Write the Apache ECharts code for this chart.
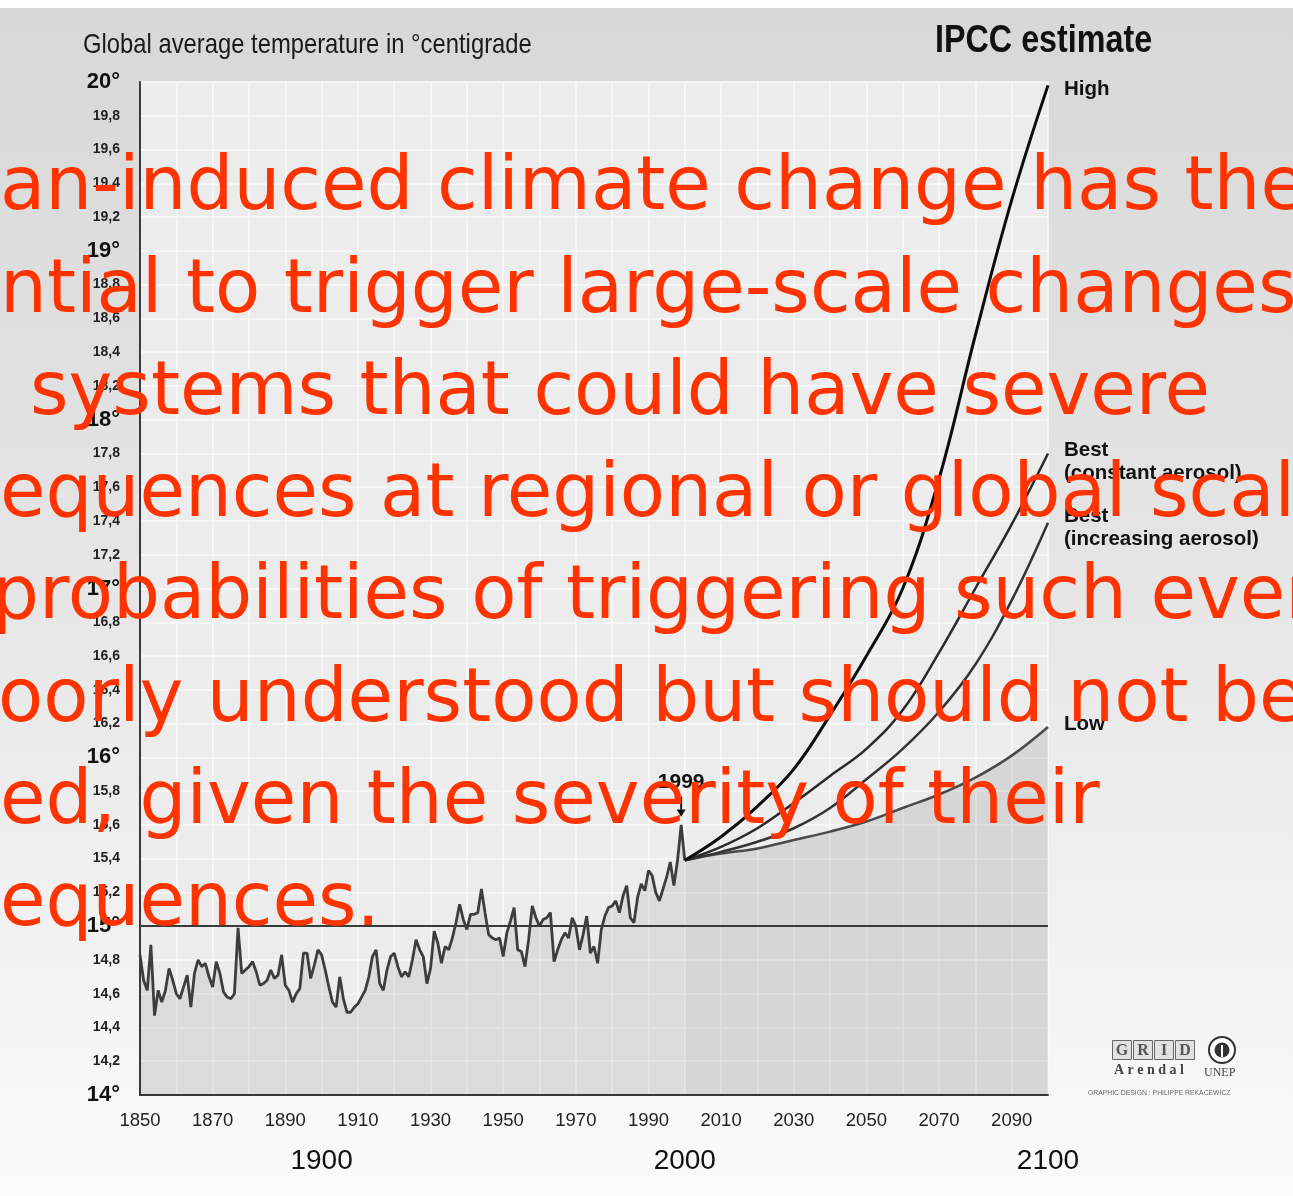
<!DOCTYPE html>
<html>
<head>
<meta charset="utf-8">
<script src="https://cdn.jsdelivr.net/npm/echarts@6/dist/echarts.min.js"></script>
<style>
  html, body { margin: 0; padding: 0; background: #fff; }
  #chart { width: 1293px; height: 1196px; }
</style>
</head>
<body>
<div id="chart"></div>
<script>
// observed global average temperature, one value per year from 1850
const histStart = 1850;
const histTemps = [
    14.83, 14.68, 14.62, 14.89, 14.47, 14.62, 14.55, 14.62, 14.75, 14.68,
    14.60, 14.57, 14.64, 14.71, 14.52, 14.72, 14.80, 14.76, 14.78, 14.70,
    14.64, 14.79, 14.72, 14.61, 14.58, 14.57, 14.60, 14.99, 14.72, 14.74,
    14.76, 14.79, 14.73, 14.65, 14.66, 14.68, 14.74, 14.69, 14.71, 14.83,
    14.65, 14.62, 14.55, 14.60, 14.63, 14.84, 14.84, 14.69, 14.77, 14.86,
    14.83, 14.74, 14.64, 14.55, 14.52, 14.70, 14.57, 14.49, 14.49, 14.52,
    14.54, 14.58, 14.62, 14.70, 14.82, 14.86, 14.66, 14.62, 14.74, 14.82,
    14.84, 14.76, 14.70, 14.73, 14.70, 14.80, 14.92, 14.86, 14.82, 14.66,
    14.75, 14.97, 14.90, 14.78, 14.88, 14.86, 14.93, 15.02, 15.13, 15.04,
    14.98, 15.07, 15.07, 15.08, 15.22, 15.08, 14.95, 14.93, 14.92, 14.93,
    14.82, 14.96, 15.03, 15.11, 14.86, 14.85, 14.76, 14.92, 15.12, 15.05,
    15.00, 15.04, 15.05, 15.08, 14.79, 14.86, 14.92, 14.96, 14.93, 15.05,
    15.00, 14.86, 14.95, 15.06, 14.84, 14.88, 14.78, 14.98, 15.06, 15.11,
    15.12, 15.15, 15.08, 15.18, 15.24, 15.05, 15.02, 15.17, 15.25, 15.21,
    15.33, 15.30, 15.20, 15.15, 15.22, 15.29, 15.38, 15.24, 15.39, 15.60,
    15.39
];

// IPCC projections
const projYears = [2000, 2010, 2020, 2030, 2040, 2050, 2060, 2070, 2080, 2090, 2100];
const high      = [15.39, 15.53, 15.71, 15.93, 16.25, 16.60, 17.00, 17.65, 18.50, 19.30, 19.98];
const bestConst = [15.39, 15.47, 15.58, 15.73, 15.89, 16.05, 16.28, 16.62, 17.00, 17.38, 17.80];
const bestIncr  = [15.39, 15.44, 15.50, 15.58, 15.70, 15.87, 16.05, 16.27, 16.55, 16.93, 17.39];
const low       = [15.39, 15.43, 15.46, 15.51, 15.56, 15.62, 15.70, 15.78, 15.88, 16.01, 16.18];

const yearLabels = [1850, 1870, 1890, 1910, 1930, 1950, 1970, 1990, 2010, 2030, 2050, 2070, 2090];
const centuryLabels = [1900, 2000, 2100];
const refLevel = 15;
const markYear = 1999;

const overlayLines = [
    'an-induced climate change has the',
    'ntial to trigger large-scale changes in',
    'systems that could have severe',
    'equences at regional or global scales.',
    'probabilities of triggering such events are',
    'oorly understood but should not be',
    'ed, given the severity of their',
    'equences.'
];

const SANS = '"Liberation Sans", Arial, sans-serif';

let histData = histTemps.map((t, i) => [histStart + i, t]);
let pair = (arr) => projYears.map((y, i) => [y, arr[i]]);
let bandData = projYears.map((y, i) => [y, +(high[i] - low[i]).toFixed(2)]);
let markTemp = histTemps[markYear - histStart];

function yLabel(v) {
    let r = Math.round(v * 10) / 10;
    if (Math.abs(r - Math.round(r)) < 1e-6) {
        return `{big|${Math.round(r)}°}`;
    }
    return `{small|${r.toFixed(1).replace('.', ',')}}`;
}

function endLabel(text, offsetY) {
    return {
        show: true,
        formatter: text,
        color: '#111',
        fontFamily: SANS,
        fontWeight: 'bold',
        fontSize: 20.5,
        lineHeight: 23,
        distance: 16,
        align: 'left',
        offset: [0, offsetY]
    };
}

// overlay text, one graphic per line
let overlayX = [0, 0, 30, 0, -8, -2, 0, 0];
let overlay = overlayLines.map((s, i) => ({
    type: 'text',
    left: overlayX[i],
    top: 153 + i * 102.3,
    z: 200,
    silent: true,
    style: {
        text: s,
        fill: '#ff3300',
        font: '74px "DejaVu Sans", sans-serif'
    }
}));

let chart = echarts.init(document.getElementById('chart'), null, {renderer: 'canvas'});

let option = {
    animation: false,
    backgroundColor: {
        type: 'linear', x: 0, y: 0, x2: 0, y2: 1,
        colorStops: [
            {offset: 0, color: '#d7d7d7'},
            {offset: 0.5, color: '#e6e6e6'},
            {offset: 1, color: '#fbfbfb'}
        ]
    },
    grid: {
        left: 140, right: 245, top: 82, bottom: 101,
        show: true,
        backgroundColor: '#ececec',
        borderWidth: 0
    },
    xAxis: [{
        type: 'value',
        min: 1850, max: 2100, interval: 10,
        axisLine: {show: true, lineStyle: {color: '#3a3a3a', width: 2}},
        axisTick: {show: false},
        axisLabel: {
            customValues: yearLabels,
            formatter: v => String(v),
            color: '#222', fontFamily: SANS, fontSize: 18.5, margin: 16
        },
        splitLine: {show: true, lineStyle: {color: '#fafafa', width: 1.5}}
    }, {
        type: 'value',
        position: 'bottom',
        offset: 40,
        min: 1850, max: 2100,
        axisLine: {show: false},
        axisTick: {show: false},
        splitLine: {show: false},
        axisLabel: {
            customValues: centuryLabels,
            formatter: v => String(v),
            color: '#111', fontFamily: SANS, fontSize: 28, margin: 12
        }
    }],
    yAxis: {
        type: 'value',
        min: 14, max: 20, interval: 0.2,
        axisLine: {show: true, lineStyle: {color: '#3a3a3a', width: 2}},
        axisTick: {show: false},
        axisLabel: {
            margin: 20,
            formatter: yLabel,
            rich: {
                big: {fontFamily: SANS, fontWeight: 'bold', fontSize: 22, color: '#111'},
                small: {fontFamily: SANS, fontWeight: 'bold', fontSize: 14, color: '#222'}
            }
        },
        splitLine: {show: true, lineStyle: {color: '#fafafa', width: 1.5}}
    },
    series: [
        {
            name: 'observed',
            type: 'line',
            data: histData,
            symbol: 'none',
            z: 5,
            lineStyle: {color: '#3d3d3d', width: 2.8},
            areaStyle: {color: 'rgba(0,0,0,0.10)'},
            markLine: {
                silent: true,
                symbol: 'none',
                label: {show: false},
                lineStyle: {color: '#3a3a3a', width: 2, type: 'solid'},
                data: [{yAxis: refLevel}]
            },
            markPoint: {
                silent: true,
                symbol: 'path://M4,0 L6,0 L6,14 L10,14 L5,22 L0,14 L4,14 Z',
                symbolSize: [9, 20],
                symbolOffset: [0, -18],
                itemStyle: {color: '#111'},
                label: {
                    show: true, position: 'top', distance: 4,
                    formatter: String(markYear),
                    color: '#111', fontFamily: SANS, fontWeight: 'bold', fontSize: 21
                },
                data: [{coord: [markYear, markTemp]}]
            }
        },
        {
            name: 'Low',
            type: 'line',
            data: pair(low),
            stack: 'proj',
            smooth: 0.4,
            symbol: 'none',
            z: 4,
            lineStyle: {color: '#4a4a4a', width: 2.5},
            areaStyle: {color: 'rgba(0,0,0,0.13)'},
            endLabel: endLabel('Low', -3)
        },
        {
            name: 'band',
            type: 'line',
            data: bandData,
            stack: 'proj',
            smooth: 0.4,
            symbol: 'none',
            z: 3,
            lineStyle: {width: 0, opacity: 0},
            areaStyle: {
                color: {
                    type: 'linear', x: 0, y: 0, x2: 0, y2: 1,
                    colorStops: [
                        {offset: 0, color: 'rgba(0,0,0,0.42)'},
                        {offset: 1, color: 'rgba(0,0,0,0.24)'}
                    ]
                }
            }
        },
        {
            name: 'Best (increasing aerosol)',
            type: 'line',
            data: pair(bestIncr),
            smooth: 0.4,
            symbol: 'none',
            z: 5,
            lineStyle: {color: '#333', width: 2.5},
            endLabel: endLabel('Best\n(increasing aerosol)', 5)
        },
        {
            name: 'Best (constant aerosol)',
            type: 'line',
            data: pair(bestConst),
            smooth: 0.4,
            symbol: 'none',
            z: 5,
            lineStyle: {color: '#2a2a2a', width: 2.5},
            endLabel: endLabel('Best\n(constant aerosol)', 8)
        },
        {
            name: 'High',
            type: 'line',
            data: pair(high),
            smooth: 0.4,
            symbol: 'none',
            z: 6,
            lineStyle: {color: '#0d0d0d', width: 3},
            endLabel: endLabel('High', 4)
        }
    ],
    graphic: [
        {
            type: 'rect', left: 0, top: 0, z: 150, silent: true,
            shape: {width: 1293, height: 8},
            style: {fill: '#ffffff'}
        },
        {
            type: 'text', left: 83, top: 31, z: 50, silent: true, scaleX: 0.85,
            style: {text: 'Global average temperature in °centigrade', fill: '#1a1a1a', font: `28px ${SANS}`}
        },
        {
            type: 'text', left: 935, top: 23, z: 50, silent: true, scaleX: 0.85,
            style: {text: 'IPCC estimate', fill: '#111', font: `bold 38px ${SANS}`}
        },
        // GRID-Arendal / UNEP credit
        {
            type: 'group', left: 1112, top: 1040, z: 50, silent: true,
            children: ['G', 'R', 'I', 'D'].map((ch, i) => ({
                type: 'group',
                x: i * 21,
                children: [
                    {type: 'rect', shape: {x: 0, y: 0, width: 19, height: 19}, style: {fill: '#e2e2e2', stroke: '#666', lineWidth: 1}},
                    {type: 'text', x: 9.5, y: 10, style: {text: ch, fill: '#555', font: 'bold 16px "Liberation Serif", serif', align: 'center', verticalAlign: 'middle'}}
                ]
            }))
        },
        {
            type: 'text', left: 1114, top: 1063, z: 50, silent: true,
            style: {text: 'A r e n d a l', fill: '#444', font: 'bold 14px "Liberation Serif", serif'}
        },
        {
            type: 'group', left: 1208, top: 1036, z: 50, silent: true,
            children: [
                {type: 'circle', shape: {cx: 16, cy: 14, r: 13}, style: {fill: '#fff', stroke: '#333', lineWidth: 2}},
                {type: 'circle', shape: {cx: 16, cy: 14, r: 7.5}, style: {fill: '#333'}},
                {type: 'rect', shape: {x: 15, y: 9, width: 2, height: 12}, style: {fill: '#fff'}}
            ]
        },
        {
            type: 'text', left: 1204, top: 1067, z: 50, silent: true,
            style: {text: 'UNEP', fill: '#444', font: '12px "Liberation Serif", serif'}
        },
        {
            type: 'text', left: 1088, top: 1089, z: 50, silent: true, scaleX: 0.85,
            style: {text: 'GRAPHIC DESIGN : PHILIPPE REKACEWICZ', fill: '#666', font: '8px ' + SANS}
        }
    ].concat(overlay)
};

chart.setOption(option);
window.addEventListener('resize', function () {
    chart.resize();
});
</script>
</body>
</html>
